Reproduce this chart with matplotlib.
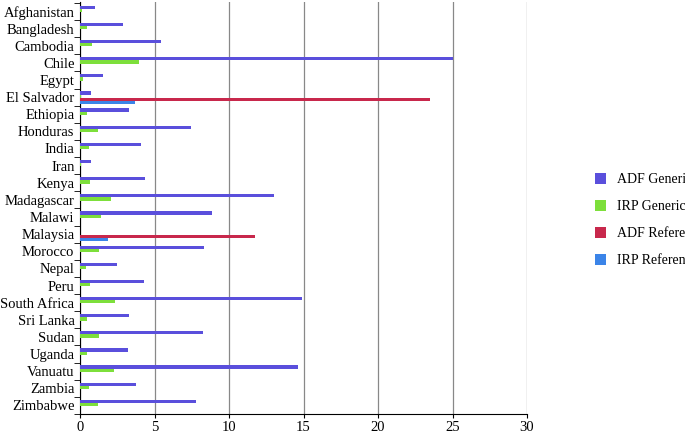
import matplotlib
matplotlib.use("Agg")
import matplotlib.pyplot as plt
import numpy as np

countries = ["Afghanistan","Bangladesh","Cambodia","Chile","Egypt","El Salvador","Ethiopia",
             "Honduras","India","Iran","Kenya","Madagascar","Malawi","Malaysia","Morocco","Nepal",
             "Peru","South Africa","Sri Lanka","Sudan","Uganda","Vanuatu","Zambia","Zimbabwe"]
adf_generic = [1.02,2.9,5.45,25.0,1.55,0.76,3.3,7.45,4.1,0.76,4.33,13.0,8.87,0,8.3,2.5,4.29,14.87,3.3,8.24,3.2,14.65,3.78,7.8]
irp_generic = [0.13,0.45,0.82,3.98,0.2,0.1,0.5,1.18,0.62,0.1,0.67,2.07,1.38,0,1.29,0.38,0.67,2.33,0.5,1.27,0.5,2.3,0.58,1.2]
adf_ref = [0,0,0,0,0,23.5,0,0,0,0,0,0,0,11.75,0,0,0,0,0,0,0,0,0,0]
irp_ref = [0,0,0,0,0,3.7,0,0,0,0,0,0,0,1.85,0,0,0,0,0,0,0,0,0,0]

plt.rcParams['font.family'] = ['Liberation Serif', 'DejaVu Serif']
fig = plt.figure(figsize=(6.85, 4.36), dpi=100)
ax = fig.add_axes([80/685, 22/436, 447/685, 412/436])

y = np.arange(len(countries))
h = 0.19
series = [(adf_generic, -0.24, "#5a4fdc", "ADF Generic"),
          (irp_generic, -0.05, "#7ddf3b", "IRP Generic"),
          (adf_ref, 0.14, "#c8284c", "ADF Reference brand"),
          (irp_ref, 0.33, "#3b84e8", "IRP Reference brand")]
for vals, off, col, lab in series:
    ax.barh(y + off, vals, height=h, color=col, label=lab, zorder=3)

ax.set_xlim(0, 30)
ax.set_ylim(len(countries) - 0.5, -0.55)
ax.set_xticks([0, 5, 10, 15, 20, 25, 30])
ax.set_yticks(y)
ax.set_yticklabels(countries, fontsize=10.5)
ax.tick_params(axis='y', length=0, pad=4)
ax.set_yticks(np.arange(-0.5, len(countries), 1), minor=True)
ax.tick_params(axis='y', which='minor', length=4, direction='out')
ax.tick_params(axis='x', labelsize=10.5, length=3, pad=2)
ax.grid(axis='x', color='#888888', linewidth=0.9, zorder=0)
for s in ['top', 'right']:
    ax.spines[s].set_visible(False)

fig.legend(loc='center left', bbox_to_anchor=(582/685, 0.495), frameon=False,
           fontsize=10, handlelength=0.8, handleheight=0.8, labelspacing=1.0)
fig.savefig("out.png", dpi=100)
